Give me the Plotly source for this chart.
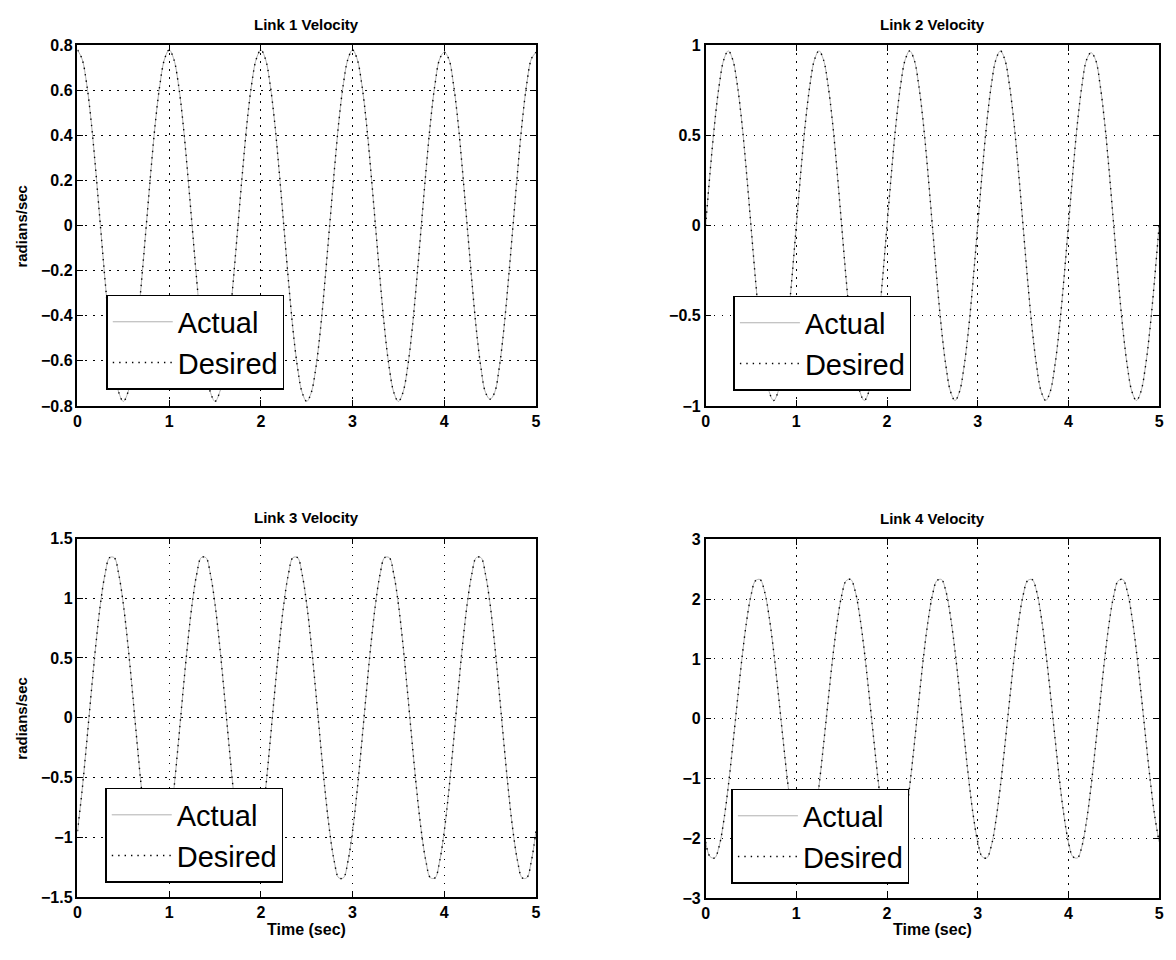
import plotly.graph_objects as go

# sample times (sec)
time_s = [0.00, 0.05, 0.10, 0.15, 0.20, 0.25, 0.30, 0.35, 0.40, 0.45,
          0.50, 0.55, 0.60, 0.65, 0.70, 0.75, 0.80, 0.85, 0.90, 0.95,
          1.00, 1.05, 1.10, 1.15, 1.20, 1.25, 1.30, 1.35, 1.40, 1.45,
          1.50, 1.55, 1.60, 1.65, 1.70, 1.75, 1.80, 1.85, 1.90, 1.95,
          2.00, 2.05, 2.10, 2.15, 2.20, 2.25, 2.30, 2.35, 2.40, 2.45,
          2.50, 2.55, 2.60, 2.65, 2.70, 2.75, 2.80, 2.85, 2.90, 2.95,
          3.00, 3.05, 3.10, 3.15, 3.20, 3.25, 3.30, 3.35, 3.40, 3.45,
          3.50, 3.55, 3.60, 3.65, 3.70, 3.75, 3.80, 3.85, 3.90, 3.95,
          4.00, 4.05, 4.10, 4.15, 4.20, 4.25, 4.30, 4.35, 4.40, 4.45,
          4.50, 4.55, 4.60, 4.65, 4.70, 4.75, 4.80, 4.85, 4.90, 4.95,
          5.00]

# read-off velocities (radians/sec)
link1 = [0.78, 0.74, 0.63, 0.46, 0.24, 0.00, -0.24, -0.46, -0.63, -0.74,
         -0.78, -0.74, -0.63, -0.46, -0.24, 0.00, 0.24, 0.46, 0.63, 0.74,
         0.78, 0.74, 0.63, 0.46, 0.24, 0.00, -0.24, -0.46, -0.63, -0.74,
         -0.78, -0.74, -0.63, -0.46, -0.24, 0.00, 0.24, 0.46, 0.63, 0.74,
         0.78, 0.74, 0.63, 0.46, 0.24, 0.00, -0.24, -0.46, -0.63, -0.74,
         -0.78, -0.74, -0.63, -0.46, -0.24, 0.00, 0.24, 0.46, 0.63, 0.74,
         0.78, 0.74, 0.63, 0.46, 0.24, 0.00, -0.24, -0.46, -0.63, -0.74,
         -0.78, -0.74, -0.63, -0.46, -0.24, 0.00, 0.24, 0.46, 0.63, 0.74,
         0.77, 0.74, 0.63, 0.46, 0.24, 0.00, -0.24, -0.46, -0.63, -0.74,
         -0.77, -0.74, -0.63, -0.46, -0.24, 0.00, 0.24, 0.46, 0.63, 0.74,
         0.77]

link2 = [0.00, 0.30, 0.57, 0.78, 0.92, 0.97, 0.92, 0.78, 0.57, 0.30,
         0.00, -0.30, -0.57, -0.78, -0.92, -0.97, -0.92, -0.78, -0.57, -0.30,
         0.00, 0.30, 0.57, 0.78, 0.92, 0.97, 0.92, 0.78, 0.57, 0.30,
         0.00, -0.30, -0.57, -0.78, -0.92, -0.97, -0.92, -0.78, -0.57, -0.30,
         0.00, 0.30, 0.57, 0.78, 0.92, 0.97, 0.92, 0.78, 0.57, 0.30,
         0.00, -0.30, -0.57, -0.78, -0.92, -0.97, -0.92, -0.78, -0.57, -0.30,
         0.00, 0.30, 0.57, 0.78, 0.92, 0.97, 0.92, 0.78, 0.57, 0.30,
         0.00, -0.30, -0.57, -0.78, -0.92, -0.97, -0.92, -0.78, -0.57, -0.30,
         0.00, 0.30, 0.57, 0.78, 0.92, 0.96, 0.92, 0.78, 0.57, 0.30,
         0.00, -0.30, -0.57, -0.78, -0.92, -0.97, -0.92, -0.78, -0.57, -0.30,
         0.00]

link3 = [-0.95, -0.61, -0.21, 0.21, 0.61, 0.95, 1.20, 1.34, 1.34, 1.20,
         0.95, 0.61, 0.21, -0.21, -0.61, -0.95, -1.20, -1.34, -1.34, -1.20,
         -0.95, -0.61, -0.21, 0.21, 0.61, 0.95, 1.20, 1.34, 1.34, 1.20,
         0.95, 0.61, 0.21, -0.21, -0.61, -0.95, -1.20, -1.34, -1.34, -1.20,
         -0.95, -0.61, -0.21, 0.21, 0.61, 0.95, 1.20, 1.34, 1.34, 1.20,
         0.95, 0.61, 0.21, -0.21, -0.61, -0.95, -1.20, -1.34, -1.34, -1.20,
         -0.95, -0.61, -0.21, 0.21, 0.61, 0.95, 1.20, 1.34, 1.34, 1.20,
         0.95, 0.61, 0.21, -0.21, -0.61, -0.95, -1.20, -1.34, -1.34, -1.20,
         -0.95, -0.61, -0.21, 0.21, 0.61, 0.95, 1.20, 1.34, 1.34, 1.20,
         0.95, 0.61, 0.21, -0.21, -0.61, -0.95, -1.20, -1.34, -1.34, -1.20,
         -0.95]

link4 = [-2.06, -2.31, -2.33, -2.13, -1.71, -1.13, -0.44, 0.29, 1.00, 1.61,
         2.06, 2.31, 2.33, 2.13, 1.71, 1.13, 0.44, -0.29, -1.00, -1.61,
         -2.06, -2.31, -2.33, -2.13, -1.71, -1.13, -0.44, 0.29, 1.00, 1.61,
         2.06, 2.31, 2.33, 2.13, 1.71, 1.13, 0.44, -0.29, -1.00, -1.61,
         -2.06, -2.31, -2.33, -2.13, -1.71, -1.13, -0.44, 0.29, 1.00, 1.61,
         2.06, 2.31, 2.33, 2.13, 1.71, 1.13, 0.44, -0.29, -1.00, -1.61,
         -2.06, -2.31, -2.33, -2.13, -1.71, -1.13, -0.44, 0.29, 1.00, 1.61,
         2.06, 2.31, 2.33, 2.13, 1.71, 1.13, 0.44, -0.29, -1.00, -1.61,
         -2.06, -2.31, -2.33, -2.13, -1.71, -1.13, -0.44, 0.29, 1.00, 1.61,
         2.06, 2.31, 2.33, 2.13, 1.71, 1.13, 0.44, -0.29, -1.00, -1.61,
         -2.06]

titles = ["Link 1 Velocity", "Link 2 Velocity", "Link 3 Velocity", "Link 4 Velocity"]
series = [link1, link2, link3, link4]
y_ranges = [(-0.8, 0.8), (-1, 1), (-1.5, 1.5), (-3, 3)]
y_dticks = [0.2, 0.5, 0.5, 1]
legend_names = ["Actual", "Desired"]

# the page body has an 8px margin, so the figure is drawn 8px in from the window edge
OFF = 8
W, H = 1176 - OFF, 960 - OFF
FONT = "Liberation Sans, Arial, sans-serif"


def px(x):
    return (x - OFF) / W


def py(y):
    return 1 - (y - OFF) / H


# plot-area window-pixel boxes (left, right, top, bottom)
boxes = [(74, 536, 38, 405), (707, 1164, 38, 405),
         (74, 536, 540, 905), (707, 1164, 541, 906)]
legend_pos = [(103, 292), (735, 293), (102, 794), (733, 795)]

fig = go.Figure()
layout = {}
annotations = []
for i in range(4):
    n = "" if i == 0 else str(i + 1)
    xa, ya = "x" + n, "y" + n
    leg = "legend" if i == 0 else "legend" + str(i + 1)
    l, r, t, b = boxes[i]
    fig.add_trace(go.Scatter(
        x=time_s, y=series[i], name=legend_names[0], mode="lines",
        line=dict(color="#b0b0b0", width=1, shape="spline"),
        xaxis=xa, yaxis=ya, legend=leg, hoverinfo="skip"))
    fig.add_trace(go.Scatter(
        x=time_s, y=series[i], name=legend_names[1], mode="lines",
        line=dict(color="black", width=1.4, dash="1.4px,5px", shape="spline"),
        xaxis=xa, yaxis=ya, legend=leg, hoverinfo="skip"))
    axis_common = dict(
        showline=True, mirror="ticks", linecolor="black", linewidth=1.5,
        ticks="inside", ticklen=6, tickcolor="black", tickwidth=1,
        showgrid=True, gridcolor="black", gridwidth=1, griddash="1.5px,6.5px",
        zeroline=False,
        tickfont=dict(family=FONT, size=16, color="black", weight="bold"),
        fixedrange=True)
    layout["xaxis" + n] = dict(
        axis_common, domain=[px(l), px(r)], range=[0, 5], dtick=1, tick0=0,
        anchor=ya)
    layout["yaxis" + n] = dict(
        axis_common, domain=[py(b), py(t)], range=list(y_ranges[i]),
        dtick=y_dticks[i], tick0=0, anchor=xa)
    lx, ly = legend_pos[i]
    layout[leg] = dict(
        x=px(lx), y=py(ly), xanchor="left", yanchor="top",
        bordercolor="black", borderwidth=1.5, bgcolor="white",
        font=dict(family=FONT, size=29, color="black"),
        itemwidth=60, tracegroupgap=0)
    annotations.append(dict(
        text=titles[i], x=px((l + r) / 2), y=py(t - 21),
        xref="paper", yref="paper", showarrow=False,
        font=dict(family=FONT, size=15, color="black", weight="bold"),
        xanchor="center", yanchor="middle"))

# axis labels
for (l, r, t, b) in [boxes[0], boxes[2]]:
    annotations.append(dict(
        text="radians/sec", x=px(18), y=py((t + b) / 2), textangle=-90,
        xref="paper", yref="paper", showarrow=False,
        font=dict(family=FONT, size=15, color="black", weight="bold"),
        xanchor="center", yanchor="middle"))
for (l, r, t, b) in [boxes[2], boxes[3]]:
    annotations.append(dict(
        text="Time (sec)", x=px((l + r) / 2), y=py(938),
        xref="paper", yref="paper", showarrow=False,
        font=dict(family=FONT, size=16, color="black", weight="bold"),
        xanchor="center", yanchor="middle"))

fig.update_layout(**layout)
fig.update_layout(
    width=W, height=H, margin=dict(l=0, r=0, t=0, b=0),
    paper_bgcolor="white", plot_bgcolor="white",
    annotations=annotations, showlegend=True)

fig.write_html("out.html")
